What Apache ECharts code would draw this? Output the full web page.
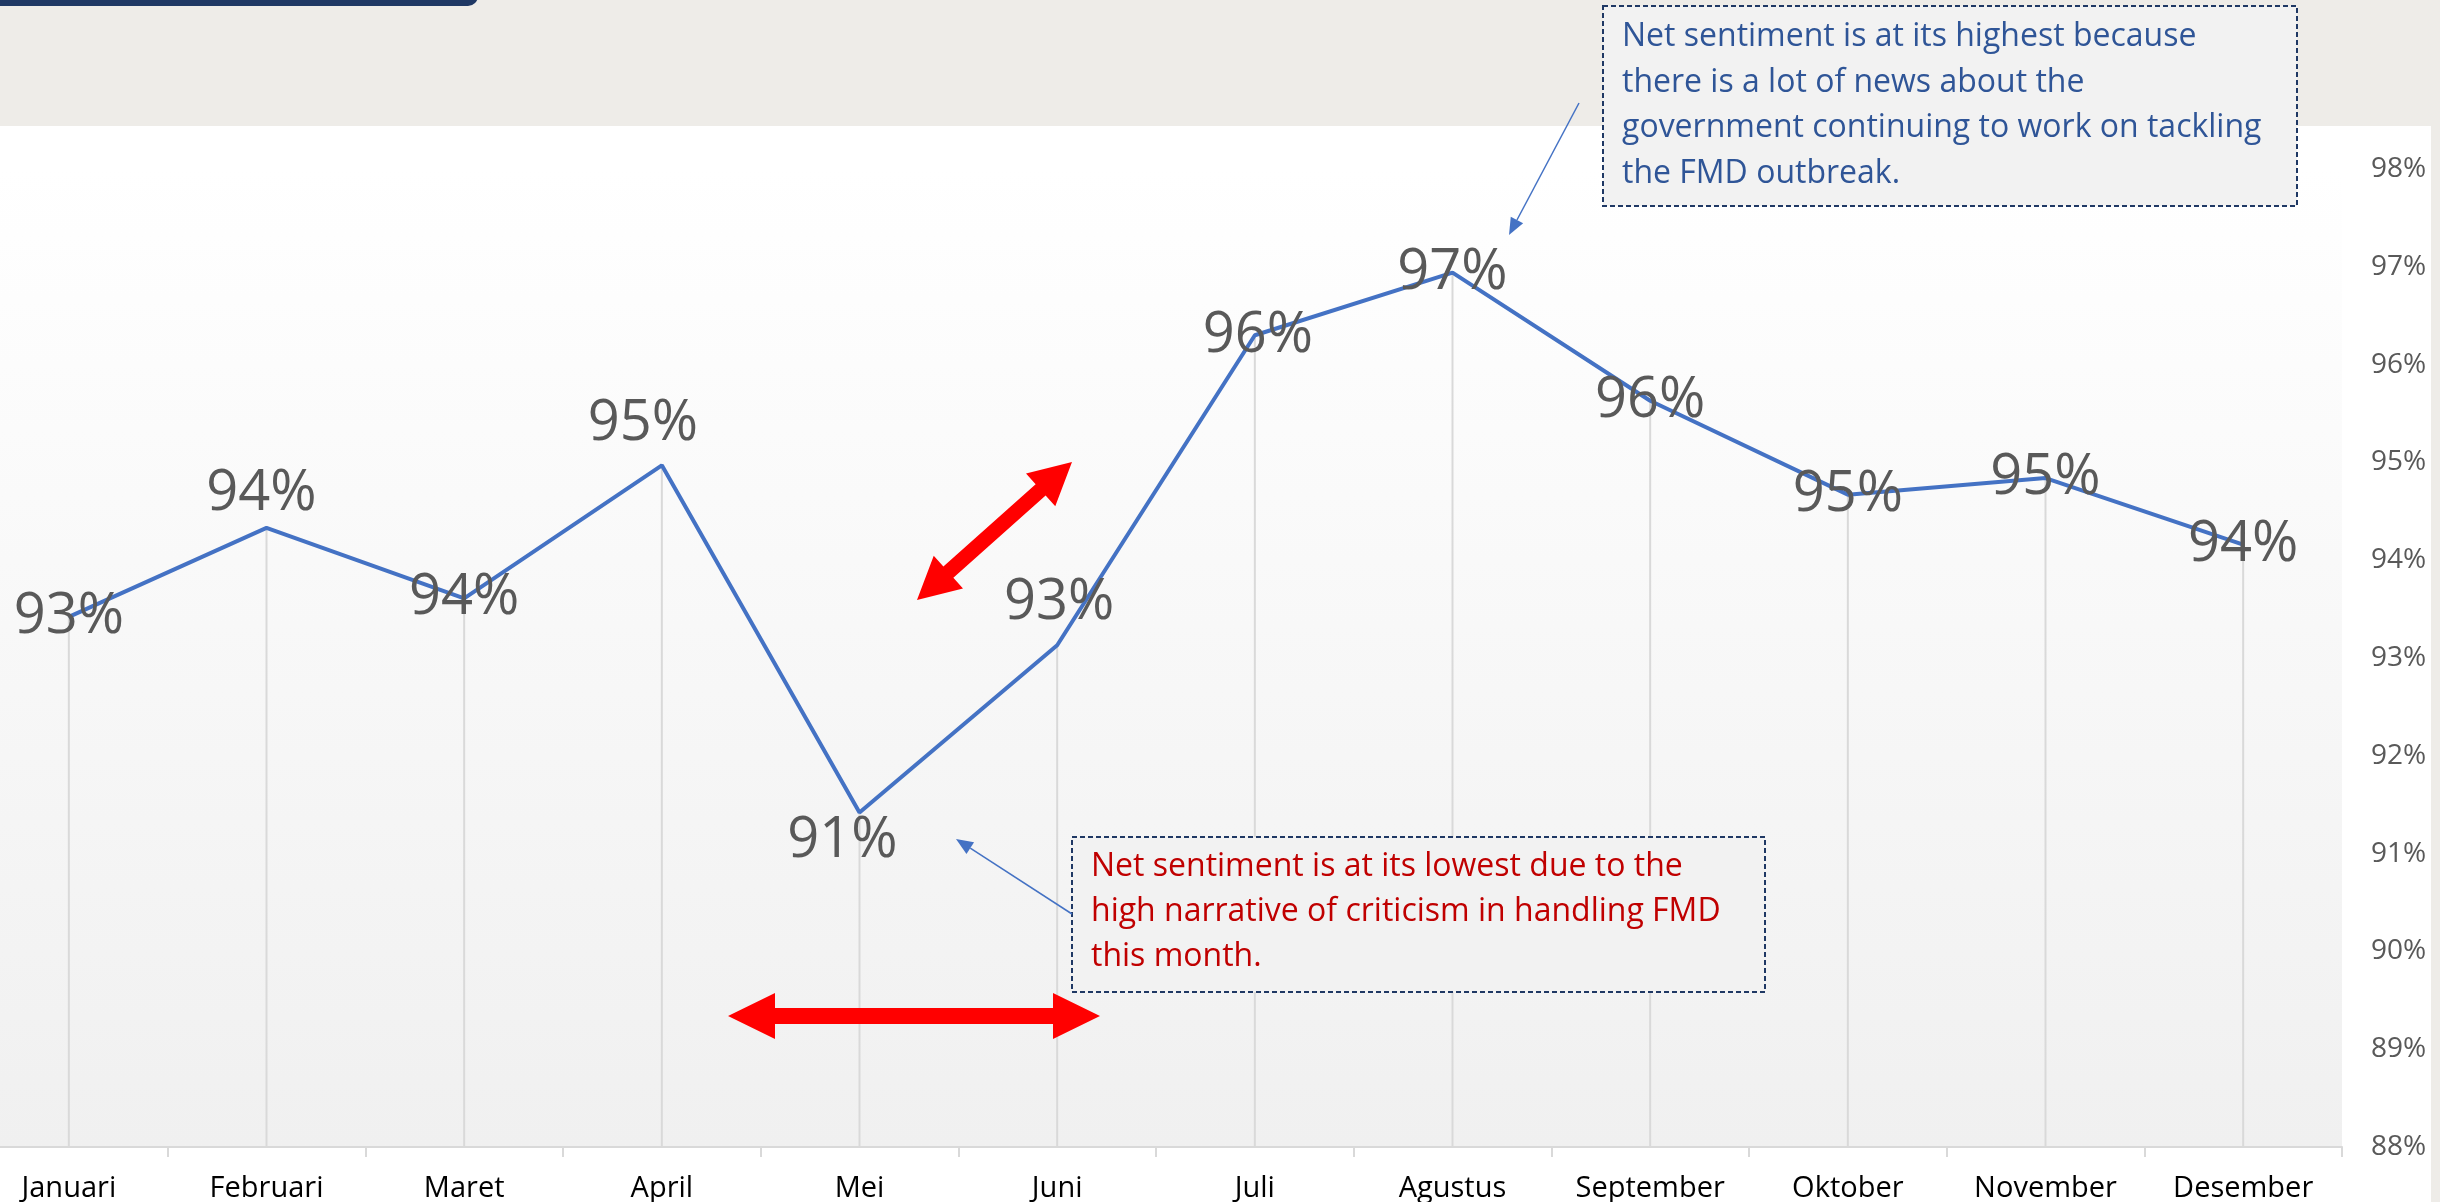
<!DOCTYPE html>
<html>
<head>
<meta charset="utf-8">
<script src="https://cdn.jsdelivr.net/npm/echarts@6/dist/echarts.min.js"></script>
<style>
  html, body { margin: 0; padding: 0; background: #EEECE8; overflow: hidden; }
  /* the plot runs past the left edge of the picture, so the canvas starts 30px off-screen */
  #chart { position: absolute; left: -30px; top: 0; width: 2470px; height: 1202px; }
</style>
</head>
<body>
<div id="chart"></div>
<script>
// data
var months = ['Januari', 'Februari', 'Maret', 'April', 'Mei', 'Juni', 'Juli', 'Agustus', 'September', 'Oktober', 'November', 'Desember'];
var netSentiment = [93.42, 94.33, 93.61, 94.97, 91.42, 93.13, 96.30, 96.94, 95.63, 94.67, 94.84, 94.16];
var yMin = 88;
var yMax = 98;
var yStep = 1;

// where each data label sits relative to its point (px)
var labelShift = [[0, 0], [-5, -34], [0, 0], [-19, -41], [-17, 29], [2, -42], [3, 1], [0, 0], [0, 0], [0, 0], [0, 0], [0, 0]];

var noteHigh = 'Net sentiment is at its highest because\nthere is a lot of news about the\ngovernment continuing to work on tackling\nthe FMD outbreak.';
var noteLow = 'Net sentiment is at its lowest due to the\nhigh narrative of criticism in handling FMD\nthis month.';

var FONT = '"Open Sans", "Noto Sans", sans-serif';
var OX = 30; // canvas offset, added to every x of the drawn annotations

function doubleArrow(x1, y1, x2, y2, shaft, headW, headL) {
    x1 += OX; x2 += OX;
    var len = Math.sqrt((x2 - x1) * (x2 - x1) + (y2 - y1) * (y2 - y1));
    var ux = (x2 - x1) / len, uy = (y2 - y1) / len;
    var nx = -uy, ny = ux;
    var b1x = x1 + ux * headL, b1y = y1 + uy * headL;
    var b2x = x2 - ux * headL, b2y = y2 - uy * headL;
    return [
        [x1, y1],
        [b1x + nx * headW / 2, b1y + ny * headW / 2],
        [b1x + nx * shaft / 2, b1y + ny * shaft / 2],
        [b2x + nx * shaft / 2, b2y + ny * shaft / 2],
        [b2x + nx * headW / 2, b2y + ny * headW / 2],
        [x2, y2],
        [b2x - nx * headW / 2, b2y - ny * headW / 2],
        [b2x - nx * shaft / 2, b2y - ny * shaft / 2],
        [b1x - nx * shaft / 2, b1y - ny * shaft / 2],
        [b1x - nx * headW / 2, b1y - ny * headW / 2]
    ];
}

function pointer(x1, y1, x2, y2) {
    x1 += OX; x2 += OX;
    var len = Math.sqrt((x2 - x1) * (x2 - x1) + (y2 - y1) * (y2 - y1));
    var ux = (x2 - x1) / len, uy = (y2 - y1) / len;
    var nx = -uy, ny = ux;
    var bx = x2 - ux * 17, by = y2 - uy * 17;
    return [
        { type: 'line', z: 20, shape: { x1: x1, y1: y1, x2: bx, y2: by }, style: { stroke: '#4472C4', lineWidth: 1.5 } },
        { type: 'polygon', z: 20, shape: { points: [[x2, y2], [bx + nx * 7, by + ny * 7], [bx - nx * 7, by - ny * 7]] }, style: { fill: '#4472C4' } }
    ];
}

var dom = document.getElementById('chart');
var myChart = echarts.init(dom, null, { renderer: 'canvas' });

var seriesData = netSentiment.map(function (v, i) {
    return {
        value: v,
        label: { offset: labelShift[i] }
    };
});

var graphics = [
    // white card under the chart
    { type: 'rect', z: -10, shape: { x: 0, y: 126, width: 2431 + OX, height: 1076 }, style: { fill: '#FFFFFF' } },
    // navy tab at top-left
    { type: 'rect', z: 5, shape: { x: 0, y: -14, width: 478 + OX, height: 20, r: 10 }, style: { fill: '#1F3864' } },
    // red arrows
    { type: 'polygon', z: 15, shape: { points: doubleArrow(728, 1016, 1100, 1016, 16, 46, 47) }, style: { fill: '#FF0000' } },
    { type: 'polygon', z: 15, shape: { points: doubleArrow(917, 600, 1072, 462, 15, 44, 42) }, style: { fill: '#FF0000' } },
    // callout boxes
    {
        type: 'rect', z: 18,
        shape: { x: 1603 + OX, y: 6, width: 694, height: 200 },
        style: { fill: '#F2F2F2', stroke: '#1F3864', lineWidth: 2, lineDash: [5, 3] }
    },
    {
        type: 'text', z: 19, x: 1622 + OX, y: 14,
        style: { text: noteHigh, fill: '#2F5597', font: '32px ' + FONT, lineHeight: 45.7 }
    },
    {
        type: 'rect', z: 18,
        shape: { x: 1072 + OX, y: 837, width: 693, height: 155 },
        style: { fill: '#F2F2F2', stroke: '#1F3864', lineWidth: 2, lineDash: [5, 3] }
    },
    {
        type: 'text', z: 19, x: 1091 + OX, y: 844,
        style: { text: noteLow, fill: '#C00000', font: '32px ' + FONT, lineHeight: 45 }
    }
].concat(pointer(1579, 103, 1509, 235)).concat(pointer(1072, 914, 956, 839));

var option = {
    backgroundColor: '#EEECE8',
    animation: false,
    grid: {
        left: 0,
        right: 98,
        top: 169,
        bottom: 55,
        containLabel: false,
        outerBoundsMode: 'none',
        show: true,
        borderWidth: 0,
        backgroundColor: new echarts.graphic.LinearGradient(0, 0, 0, 1, [
            { offset: 0, color: '#FFFFFF' },
            { offset: 1, color: '#F0F0F0' }
        ])
    },
    xAxis: {
        type: 'category',
        data: months,
        boundaryGap: true,
        axisLine: { lineStyle: { color: '#D9D9D9', width: 2 } },
        axisTick: { show: true, length: 10, lineStyle: { color: '#D9D9D9', width: 2 } },
        axisLabel: {
            color: '#000000',
            fontFamily: FONT,
            fontSize: 29,
            lineHeight: 40,
            margin: 22
        },
        splitLine: { show: false }
    },
    yAxis: {
        type: 'value',
        position: 'right',
        min: yMin,
        max: yMax,
        interval: yStep,
        axisLine: { show: false },
        axisTick: { show: false },
        splitLine: { show: false },
        axisLabel: {
            color: '#595959',
            fontFamily: FONT,
            fontSize: 28,
            margin: 29,
            formatter: function (v) { return v + '%'; }
        }
    },
    graphic: graphics,
    series: [
        {
            // drop lines from each point down to the axis
            name: 'drop',
            type: 'bar',
            data: netSentiment,
            barWidth: 2,
            silent: true,
            itemStyle: { color: '#D9D9D9' },
            z: 1
        },
        {
            name: 'Net sentiment',
            type: 'line',
            data: seriesData,
            symbol: 'circle',
            symbolSize: 1,
            showSymbol: true,
            itemStyle: { color: '#4472C4' },
            lineStyle: { color: '#4472C4', width: 4 },
            z: 3,
            label: {
                show: true,
                position: 'inside',
                color: '#595959',
                fontFamily: FONT,
                fontSize: 56,
                formatter: function (p) { return Math.round(p.value) + '%'; }
            }
        }
    ]
};

if (option && typeof option === 'object') {
    myChart.setOption(option);
}

window.addEventListener('resize', myChart.resize);
</script>
</body>
</html>
